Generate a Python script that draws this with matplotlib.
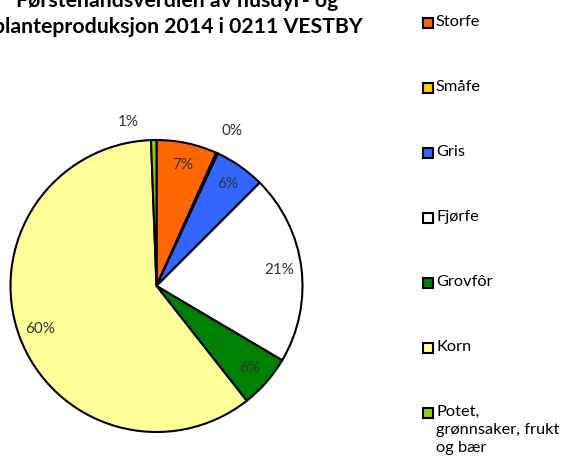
import matplotlib
matplotlib.use("Agg")
import matplotlib.pyplot as plt
from matplotlib.patches import Rectangle

plt.rcParams['font.family'] = ['Lato', 'DejaVu Sans']

# Data (share of value, %)
categories = ['Storfe', 'Småfe', 'Gris', 'Fjørfe', 'Grovfôr', 'Korn',
              'Potet,\ngrønnsaker, frukt\nog bær']
values = [6.7, 0.2, 5.6, 21.0, 5.9, 60.0, 0.6]
colors = ['#FF6600', '#FFCC00', '#3366FF', '#FFFFFF', '#008000', '#FFFF99', '#99CC00']
title_lines = ['Førstehåndsverdien av husdyr- og',
               'planteproduksjon 2014 i 0211 VESTBY']

W, H = 569, 466
fig = plt.figure(figsize=(W / 100, H / 100), dpi=100)

# pie centre (156.5, 286) px from top-left, radius 146 px
cx, cy, r = 156.5, 286, 146
half = r * 1.25
ax = fig.add_axes([(cx - half) / W, (H - cy - half) / H, 2 * half / W, 2 * half / H])

wedges, texts, autotexts = ax.pie(values, colors=colors, startangle=90, counterclock=False,
                                  autopct='%.0f%%', pctdistance=0.85,
                                  wedgeprops=dict(edgecolor='black', linewidth=1.5),
                                  textprops=dict(fontsize=11, color='#333333'))
ax.set_xlim(-1.25, 1.25)
ax.set_ylim(-1.25, 1.25)
ax.set_aspect('equal')

# tiny slices get their labels outside the pie
autotexts[1].set_position((0.52, 1.06))
autotexts[6].set_position((-0.19, 1.12))

# title (clipped at the top/left as in the original)
fig.text(177.5 / W, 1 - 7 / H, title_lines[0], ha='center', va='baseline',
         fontsize=15.3, fontweight='bold')
fig.text(177.5 / W, 1 - 33 / H, title_lines[1], ha='center', va='baseline',
         fontsize=15.3, fontweight='bold')

# legend drawn by hand: square marker next to first line of each label
y0, step = 23, 65
for i, (lab, col) in enumerate(zip(categories, colors)):
    y = y0 + i * step
    fig.patches.append(Rectangle((423 / W, 1 - (y + 5) / H), 10 / W, 10 / H,
                                 facecolor=col, edgecolor='black', linewidth=1.5,
                                 transform=fig.transFigure, figure=fig))
    fig.text(436 / W, 1 - (y - 8) / H, lab, ha='left', va='top', fontsize=11.8,
             linespacing=1.38)

fig.savefig('out.png', dpi=100)
